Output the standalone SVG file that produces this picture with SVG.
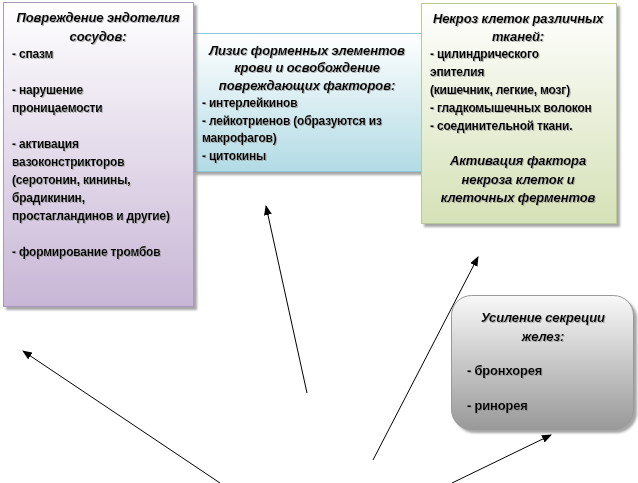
<svg xmlns="http://www.w3.org/2000/svg" width="638" height="483" viewBox="0 0 638 483">
<defs>
<linearGradient id="gPurple" x1="0" y1="0" x2="0" y2="1"><stop offset="0" stop-color="#ffffff"/><stop offset="1" stop-color="#c8b6d6"/></linearGradient>
<linearGradient id="gBlue" x1="0" y1="0" x2="0" y2="1"><stop offset="0" stop-color="#ffffff"/><stop offset="1" stop-color="#b2dbe5"/></linearGradient>
<linearGradient id="gGreen" x1="0" y1="0" x2="0" y2="1"><stop offset="0" stop-color="#ffffff"/><stop offset="1" stop-color="#d5e1b6"/></linearGradient>
<linearGradient id="gGray" x1="0" y1="0" x2="0" y2="1"><stop offset="0" stop-color="#f8f8f8"/><stop offset="1" stop-color="#999999"/></linearGradient>
<filter id="sh" x="-10%" y="-10%" width="130%" height="130%"><feDropShadow dx="3" dy="3" stdDeviation="1" flood-color="#808080" flood-opacity="0.7"/></filter>
<filter id="tsh" x="-5%" y="-20%" width="110%" height="150%"><feDropShadow dx="1" dy="1" stdDeviation="0.6" flood-color="#888" flood-opacity="0.6"/></filter>
<marker id="ah" markerWidth="10" markerHeight="8" refX="9" refY="4" orient="auto" markerUnits="userSpaceOnUse"><path d="M0,0 L10,4 L0,8 Z" fill="#000"/></marker>
</defs>
<style>
text{font-family:"Liberation Sans","DejaVu Sans",sans-serif;font-size:12px;font-weight:bold;fill:#000;letter-spacing:-0.2px}
.t{font-style:italic;text-anchor:middle;font-size:13px;letter-spacing:-0.1px}
.b{font-size:13px}
.conn line{stroke:#000;stroke-width:1;marker-end:url(#ah)}
</style>
<g id="conn" class="conn">
<line x1="220" y1="483" x2="23" y2="351"/>
<line x1="307" y1="393" x2="266" y2="206"/>
<line x1="373" y1="460" x2="478" y2="257"/>
<line x1="452" y1="483" x2="551" y2="435"/>
</g>
<g id="n2">
<rect x="193.5" y="33.5" width="228" height="138" fill="url(#gBlue)" stroke="#8ec8d6" filter="url(#sh)"/>
<g filter="url(#tsh)">
<text class="t" x="307" y="55">Лизис форменных элементов</text>
<text class="t" x="307" y="72">крови и освобождение</text>
<text class="t" x="307" y="90">повреждающих факторов:</text>
<text x="202" y="107">- интерлейкинов</text>
<text x="202" y="125">- лейкотриенов (образуются из</text>
<text x="202" y="142">макрофагов)</text>
<text x="202" y="160">- цитокины</text>
</g>
</g>
<g id="n1">
<rect x="3.5" y="2.5" width="190" height="304" fill="url(#gPurple)" stroke="#a89ab8" filter="url(#sh)"/>
<g filter="url(#tsh)">
<text class="t" x="98" y="22">Повреждение эндотелия</text>
<text class="t" x="98" y="41">сосудов:</text>
<text x="12" y="58">- спазм</text>
<text x="12" y="94">- нарушение</text>
<text x="12" y="112">проницаемости</text>
<text x="12" y="148">- активация</text>
<text x="12" y="166">вазоконстрикторов</text>
<text x="12" y="184">(серотонин, кинины,</text>
<text x="12" y="202">брадикинин,</text>
<text x="12" y="220">простагландинов и другие)</text>
<text x="12" y="256">- формирование тромбов</text>
</g>
</g>
<g id="n3">
<rect x="421.5" y="3.5" width="195" height="220" fill="url(#gGreen)" stroke="#b8c898" filter="url(#sh)"/>
<g filter="url(#tsh)">
<text class="t" x="518" y="23">Некроз клеток различных</text>
<text class="t" x="518" y="41">тканей:</text>
<text x="430" y="58">-  цилиндрического</text>
<text x="430" y="76">эпителия</text>
<text x="430" y="94">(кишечник,  легкие, мозг)</text>
<text x="430" y="112">- гладкомышечных волокон</text>
<text x="430" y="130">- соединительной ткани.</text>
<text class="t" x="518" y="165">Активация фактора</text>
<text class="t" x="518" y="184">некроза клеток и</text>
<text class="t" x="518" y="202">клеточных ферментов</text>
</g>
</g>
<g id="n4">
<rect x="451.5" y="295.5" width="182" height="134" rx="20" ry="20" fill="url(#gGray)" stroke="#999" filter="url(#sh)"/>
<g filter="url(#tsh)">
<text class="t" x="543" y="322">Усиление секреции</text>
<text class="t" x="543" y="341">желез:</text>
<text class="b" x="467" y="375">- бронхорея</text>
<text class="b" x="467" y="410">- ринорея</text>
</g>
</g>
</svg>
